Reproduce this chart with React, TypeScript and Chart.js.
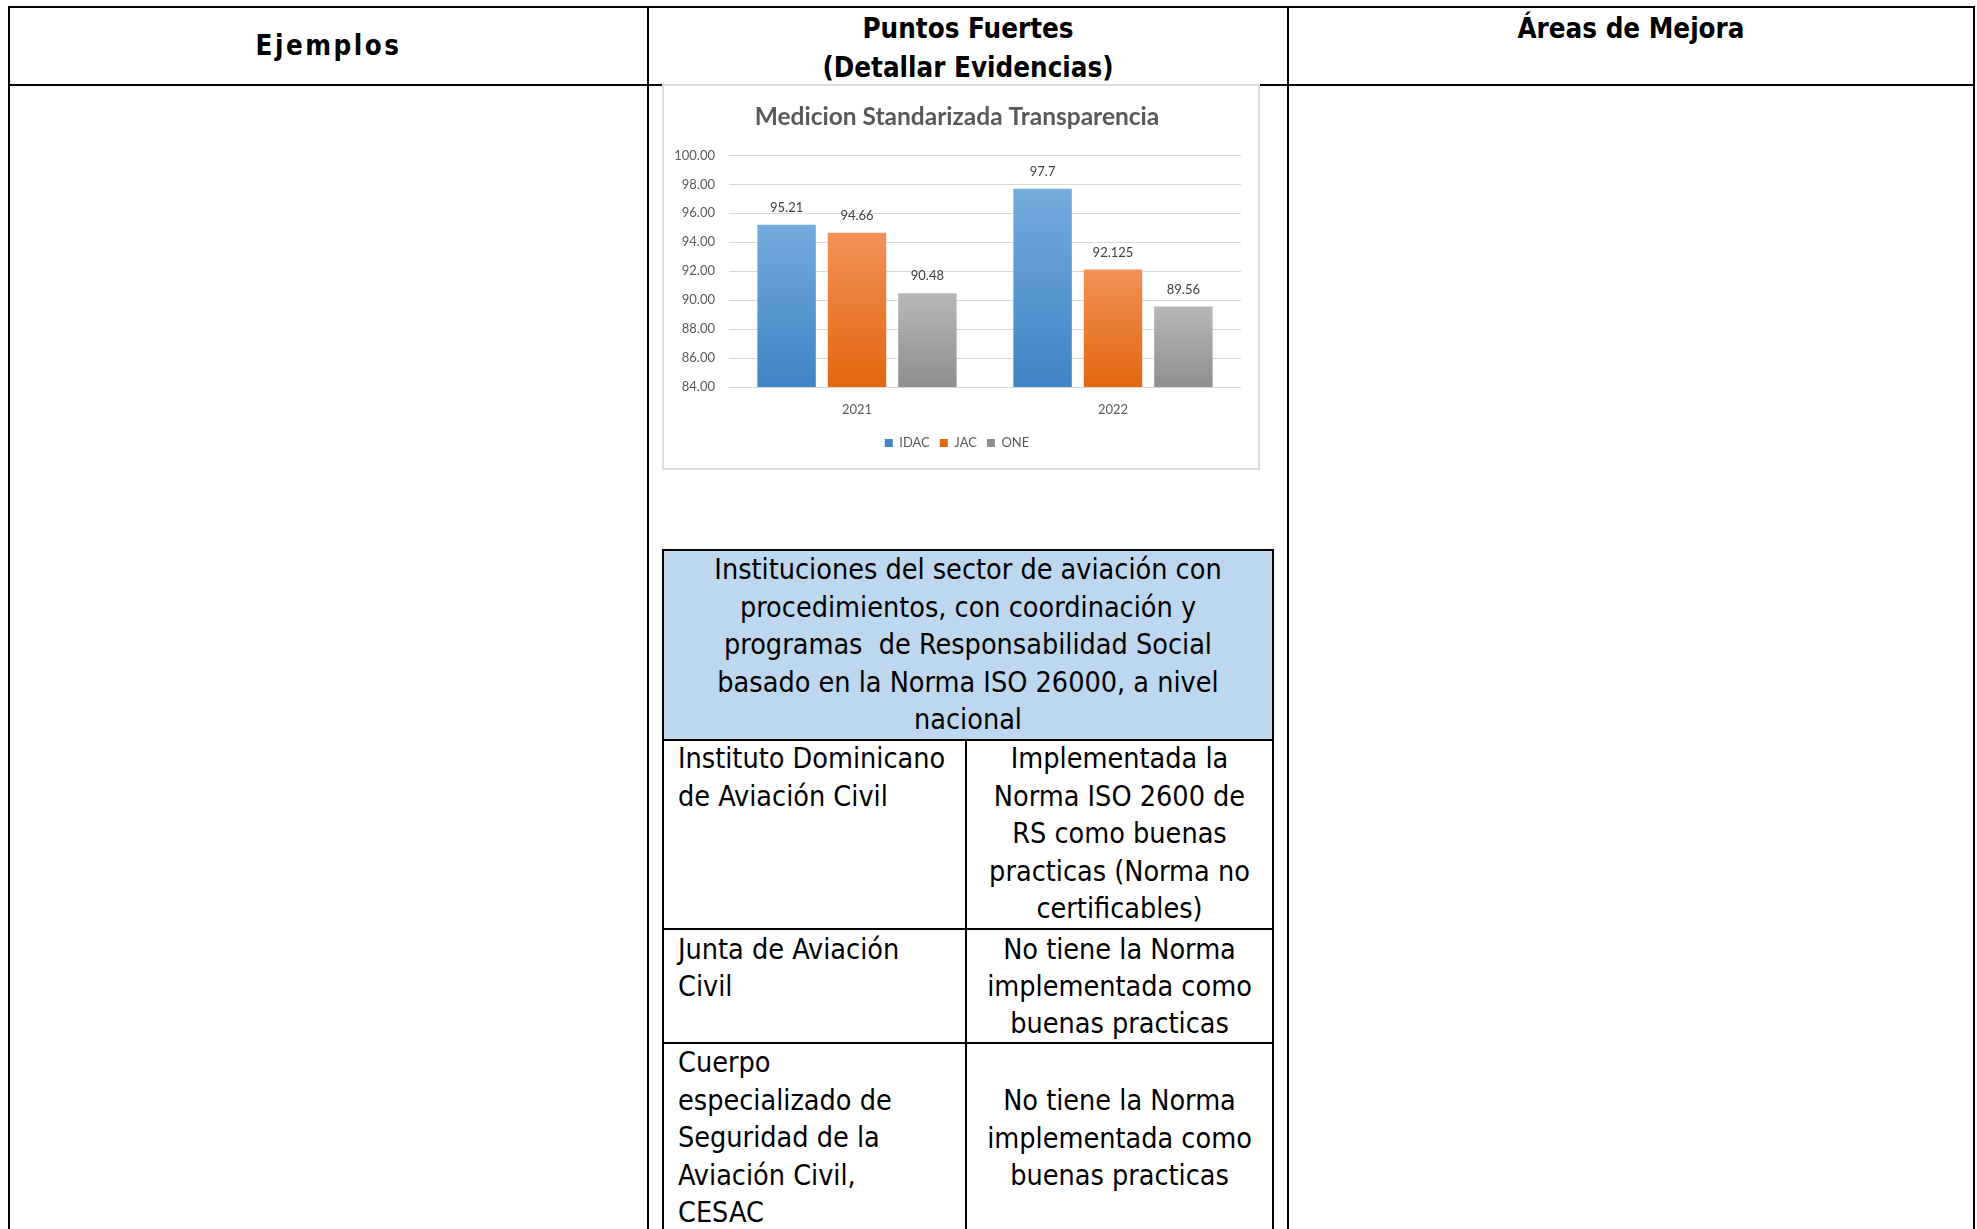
import React, { useEffect, useRef } from "react";
import { Chart, registerables } from "chart.js";

Chart.register(...registerables);

// ---------- chart data ----------
const chartTitle = "Medicion Standarizada Transparencia";
const categories = ["2021", "2022"];
const seriesNames = ["IDAC", "JAC", "ONE"];
const idacValues = [95.21, 97.7];
const jacValues = [94.66, 92.125];
const oneValues = [90.48, 89.56];
const yMin = 84;
const yMax = 100;
const yStep = 2;

// ---------- document text ----------
const headerCol1 = ["Ejemplos"];
const headerCol2 = ["Puntos Fuertes", "(Detallar Evidencias)"];
const headerCol3 = ["Áreas de Mejora"];
const innerHeader = [
  "Instituciones del sector de aviación con",
  "procedimientos, con coordinación y",
  "programas  de Responsabilidad Social",
  "basado en la Norma ISO 26000, a nivel",
  "nacional",
];
const row1Left = ["Instituto Dominicano", "de Aviación Civil"];
const row1Right = ["Implementada la", "Norma ISO 2600 de", "RS como buenas", "practicas (Norma no", "certificables)"];
const row2Left = ["Junta de Aviación", "Civil"];
const row2Right = ["No tiene la Norma", "implementada como", "buenas practicas"];
const row3Left = ["Cuerpo", "especializado de", "Seguridad de la", "Aviación Civil,", "CESAC"];
const row3Right = ["No tiene la Norma", "implementada como", "buenas practicas"];

const baseColors = ["#5b9bd5", "#ed7d31", "#a5a5a5"];
const topColors = ["#74aadd", "#f29157", "#b7b7b7"];
const bottomColors = ["#3f84c5", "#e2670f", "#8f8f8f"];

const FONT = "'DejaVu Sans Condensed', 'DejaVu Sans', sans-serif";
const CHART_FONT = "Lato, 'Open Sans', sans-serif";

function gradientFor(i: number) {
  return (c: any) => {
    const chart = c.chart;
    const area = chart.chartArea;
    if (!area || c.type !== "data" || c.raw == null) return baseColors[i];
    const yTop = chart.scales.y.getPixelForValue(c.raw);
    const g = chart.ctx.createLinearGradient(0, yTop, 0, area.bottom);
    g.addColorStop(0, topColors[i]);
    g.addColorStop(1, bottomColors[i]);
    return g;
  };
}

const valueLabels = {
  id: "valueLabels",
  afterDatasetsDraw(chart: any) {
    const ctx = chart.ctx;
    ctx.save();
    ctx.font = `13px ${CHART_FONT}`;
    ctx.fillStyle = "#404040";
    ctx.textAlign = "center";
    ctx.textBaseline = "middle";
    chart.data.datasets.forEach((ds: any, i: number) => {
      const meta = chart.getDatasetMeta(i);
      meta.data.forEach((bar: any, j: number) => {
        ctx.fillText(String(ds.data[j]), bar.x, bar.y - 17);
      });
    });
    ctx.restore();
  },
};

function BarChart() {
  const ref = useRef<HTMLCanvasElement | null>(null);
  useEffect(() => {
    if (!ref.current) return;
    const seriesValues = [idacValues, jacValues, oneValues];
    const chart = new Chart(ref.current, {
      type: "bar",
      data: {
        labels: categories,
        datasets: seriesNames.map((name, i) => ({
          label: name,
          data: seriesValues[i],
          backgroundColor: gradientFor(i),
          borderWidth: 0,
          categoryPercentage: 0.825,
          barPercentage: 0.83,
        })),
      },
      options: {
        animation: false,
        responsive: false,
        devicePixelRatio: 1,
        layout: { padding: { left: 9, right: 17, top: 0, bottom: 8.5 } },
        plugins: {
          title: {
            display: true,
            text: chartTitle,
            color: "#595959",
            font: { family: CHART_FONT, size: 24.5, weight: "bold", lineHeight: 1.2 },
            padding: { top: 16.5, bottom: 23.5 },
          },
          legend: {
            position: "bottom",
            labels: {
              boxWidth: 8,
              boxHeight: 8,
              padding: 10,
              color: "#595959",
              font: { family: CHART_FONT, size: 13 },
            },
          },
          tooltip: { enabled: false },
        },
        scales: {
          x: {
            grid: { display: false, drawTicks: false },
            border: { display: false },
            ticks: { color: "#595959", font: { family: CHART_FONT, size: 13 }, padding: 15 },
            afterFit: (s: any) => {
              s.height = 39.5;
            },
          },
          y: {
            min: yMin,
            max: yMax,
            ticks: {
              stepSize: yStep,
              padding: 14,
              color: "#595959",
              font: { family: CHART_FONT, size: 13 },
              callback: (v: any) => Number(v).toFixed(2),
            },
            grid: { color: "#d9d9d9", drawTicks: false, lineWidth: 1 },
            border: { display: false },
            afterFit: (s: any) => {
              s.width = 56;
            },
          },
        },
      },
      plugins: [valueLabels],
    } as any);
    return () => chart.destroy();
  }, []);
  return <canvas ref={ref} width={594} height={382} style={{ display: "block", width: 594, height: 382 }} />;
}

function Rect(props: { x: number; y: number; w: number; h: number; c?: string }) {
  return (
    <div
      style={{
        position: "absolute",
        left: props.x,
        top: props.y,
        width: props.w,
        height: props.h,
        background: props.c ?? "#000",
      }}
    />
  );
}

function TextBlock(props: {
  lines: string[];
  x: number;
  w: number;
  top: number;
  lh: number;
  size: number;
  align: "left" | "center";
  bold?: boolean;
  ls?: number;
}) {
  return (
    <div
      style={{
        position: "absolute",
        left: props.x,
        top: props.top,
        width: props.w,
        textAlign: props.align,
        fontFamily: FONT,
        fontStretch: "condensed",
        fontWeight: props.bold ? "bold" : "normal",
        fontSize: props.size,
        lineHeight: `${props.lh}px`,
        letterSpacing: props.ls ?? 0,
        color: "#000",
        whiteSpace: "pre",
      }}
    >
      {props.lines.map((l, i) => (
        <div key={i}>{l}</div>
      ))}
    </div>
  );
}

export default function App() {
  const H = 1229;
  return (
    <div style={{ position: "absolute", left: 0, top: 0, width: 1977, height: H, overflow: "hidden", background: "#fff" }}>
      {/* outer table */}
      <Rect x={8} y={6} w={1967} h={2} />
      <Rect x={8} y={84} w={1967} h={2} />
      <Rect x={8} y={6} w={2} h={H} />
      <Rect x={1973} y={6} w={2} h={H} />
      <Rect x={647} y={6} w={2} h={H} />
      <Rect x={1287} y={6} w={2} h={H} />

      <TextBlock lines={headerCol1} x={10} w={637} top={26} lh={39} size={27.5} align="center" bold ls={2.5} />
      <TextBlock lines={headerCol2} x={649} w={638} top={8.5} lh={39} size={27.5} align="center" bold />
      <TextBlock lines={headerCol3} x={1289} w={684} top={8.5} lh={39} size={27.5} align="center" bold />

      {/* chart box */}
      <div
        style={{
          position: "absolute",
          left: 662,
          top: 84,
          width: 594,
          height: 382,
          border: "2px solid #dcdcdc",
          background: "#fff",
        }}
      >
        <BarChart />
      </div>

      {/* inner table */}
      <Rect x={664} y={551} w={608} h={188} c="#bdd7ee" />
      <Rect x={662} y={549} w={612} h={2} />
      <Rect x={662} y={739} w={612} h={2} />
      <Rect x={662} y={928} w={612} h={2} />
      <Rect x={662} y={1042} w={612} h={2} />
      <Rect x={662} y={549} w={2} h={H} />
      <Rect x={1272} y={549} w={2} h={H} />
      <Rect x={965} y={739} w={2} h={H} />

      <TextBlock lines={innerHeader} x={664} w={608} top={551} lh={37.5} size={28.5} align="center" />
      <TextBlock lines={row1Left} x={678} w={285} top={740} lh={37.5} size={28.5} align="left" />
      <TextBlock lines={row1Right} x={967} w={305} top={740} lh={37.5} size={28.5} align="center" />
      <TextBlock lines={row2Left} x={678} w={285} top={930.5} lh={37.3} size={28.5} align="left" />
      <TextBlock lines={row2Right} x={967} w={305} top={930.5} lh={37.3} size={28.5} align="center" />
      <TextBlock lines={row3Left} x={678} w={285} top={1044} lh={37.5} size={28.5} align="left" />
      <TextBlock lines={row3Right} x={967} w={305} top={1082} lh={37.5} size={28.5} align="center" />
    </div>
  );
}
